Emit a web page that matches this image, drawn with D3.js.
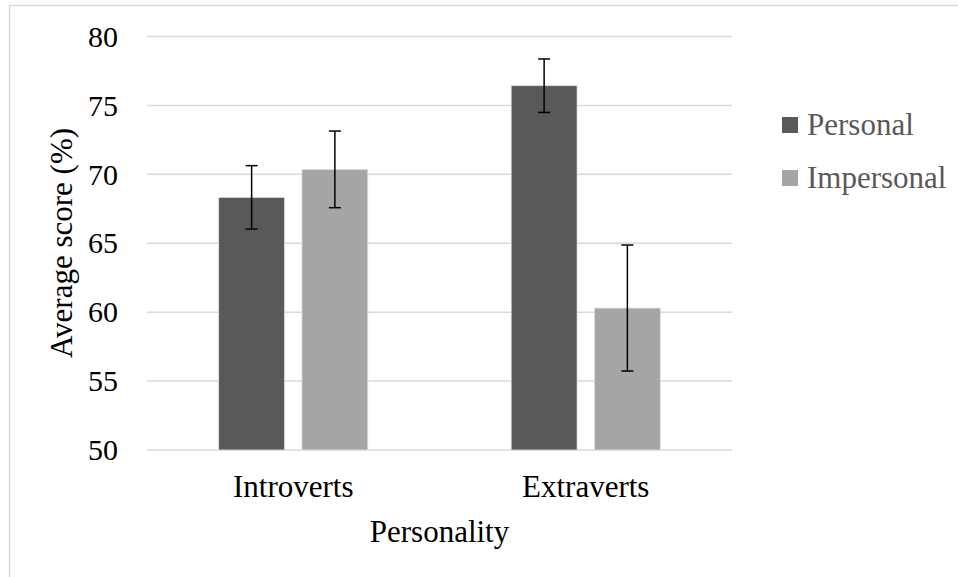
<!DOCTYPE html>
<html>
<head>
<meta charset="UTF-8">
<script src="https://cdn.jsdelivr.net/npm/d3@7"></script>
<style>
  body { margin: 0; background: #fff; }
  text { font-family: "Liberation Serif", "Times New Roman", serif; }
</style>
</head>
<body>
<script>
var categories = ["Introverts", "Extraverts"];
var series = ["Personal", "Impersonal"];
var personal = [68.33, 76.43];
var impersonal = [70.36, 60.3];
var personalErr = [2.3, 1.94];
var impersonalErr = [2.78, 4.57];
var yTicks = [50, 55, 60, 65, 70, 75, 80];

var colors = { "Personal": "#595959", "Impersonal": "#a5a5a5" };

var width = 958, height = 577;

var svg = d3.select("body").append("svg")
    .attr("width", width)
    .attr("height", height);

// chart frame
svg.append("rect")
    .attr("x", 9.5).attr("y", 5.5)
    .attr("width", width + 10).attr("height", height + 10)
    .attr("fill", "#fff")
    .attr("stroke", "#d9d9d9")
    .attr("stroke-width", 1.5);

var plotLeft = 147, plotRight = 732, plotTop = 36.5, plotBottom = 450;

var y = d3.scaleLinear().domain([50, 80]).range([plotBottom, plotTop]);
var x0 = d3.scaleBand().domain(categories).range([plotLeft, plotRight])
    .paddingInner(0.49).paddingOuter(0.245);
var x1 = d3.scaleBand().domain(series).range([0, x0.bandwidth()])
    .paddingInner(0.208);

// gridlines
svg.append("g").selectAll("line")
    .data(yTicks)
  .enter().append("line")
    .attr("x1", plotLeft).attr("x2", plotRight)
    .attr("y1", function(d) { return y(d); })
    .attr("y2", function(d) { return y(d); })
    .attr("stroke", "#d9d9d9")
    .attr("stroke-width", 1.5);

// y tick labels
svg.append("g").selectAll("text")
    .data(yTicks)
  .enter().append("text")
    .attr("x", 118)
    .attr("y", function(d) { return y(d); })
    .attr("dy", "0.34em")
    .attr("text-anchor", "end")
    .attr("font-size", 30)
    .attr("fill", "#000")
    .text(function(d) { return d; });

var rows = categories.map(function(c, i) {
  return [
    { cat: c, s: "Personal", v: personal[i], e: personalErr[i] },
    { cat: c, s: "Impersonal", v: impersonal[i], e: impersonalErr[i] }
  ];
});

var groups = svg.append("g").selectAll("g")
    .data(rows)
  .enter().append("g")
    .attr("transform", function(d) { return "translate(" + x0(d[0].cat) + ",0)"; });

groups.selectAll("rect")
    .data(function(d) { return d; })
  .enter().append("rect")
    .attr("x", function(d) { return x1(d.s); })
    .attr("width", x1.bandwidth())
    .attr("y", function(d) { return y(d.v); })
    .attr("height", function(d) { return plotBottom - y(d.v); })
    .attr("fill", function(d) { return colors[d.s]; })
    .attr("stroke", "#e3e3e3")
    .attr("stroke-width", 0.8);

// error bars
var eb = groups.selectAll("g.err")
    .data(function(d) { return d; })
  .enter().append("g")
    .attr("class", "err")
    .attr("stroke", "#000")
    .attr("stroke-width", 1.5);

eb.append("line")
    .attr("x1", function(d) { return x1(d.s) + x1.bandwidth() / 2; })
    .attr("x2", function(d) { return x1(d.s) + x1.bandwidth() / 2; })
    .attr("y1", function(d) { return y(d.v + d.e); })
    .attr("y2", function(d) { return y(d.v - d.e); });
eb.selectAll("line.cap")
    .data(function(d) { return [[d, d.v + d.e], [d, d.v - d.e]]; })
  .enter().append("line")
    .attr("class", "cap")
    .attr("x1", function(d) { return x1(d[0].s) + x1.bandwidth() / 2 - 6; })
    .attr("x2", function(d) { return x1(d[0].s) + x1.bandwidth() / 2 + 6; })
    .attr("y1", function(d) { return y(d[1]); })
    .attr("y2", function(d) { return y(d[1]); });

// x category labels
svg.append("g").selectAll("text")
    .data(categories)
  .enter().append("text")
    .attr("x", function(d) { return x0(d) + x0.bandwidth() / 2; })
    .attr("y", 497)
    .attr("text-anchor", "middle")
    .attr("font-size", 31)
    .text(function(d) { return d; });

// axis titles
svg.append("text")
    .attr("x", (plotLeft + plotRight) / 2)
    .attr("y", 542)
    .attr("text-anchor", "middle")
    .attr("font-size", 31)
    .text("Personality");

svg.append("text")
    .attr("transform", "translate(72,243) rotate(-90)")
    .attr("text-anchor", "middle")
    .attr("font-size", 31)
    .text("Average score (%)");

// legend
var legend = svg.append("g").selectAll("g")
    .data(series)
  .enter().append("g")
    .attr("transform", function(d, i) { return "translate(782," + (125 + i * 53) + ")"; });

legend.append("rect")
    .attr("x", 0).attr("y", -8)
    .attr("width", 16).attr("height", 16)
    .attr("fill", function(d) { return colors[d]; });

legend.append("text")
    .attr("x", 25)
    .attr("y", 0)
    .attr("dy", "0.33em")
    .attr("font-size", 31)
    .attr("fill", "#595959")
    .text(function(d) { return d; });
</script>
</body>
</html>
